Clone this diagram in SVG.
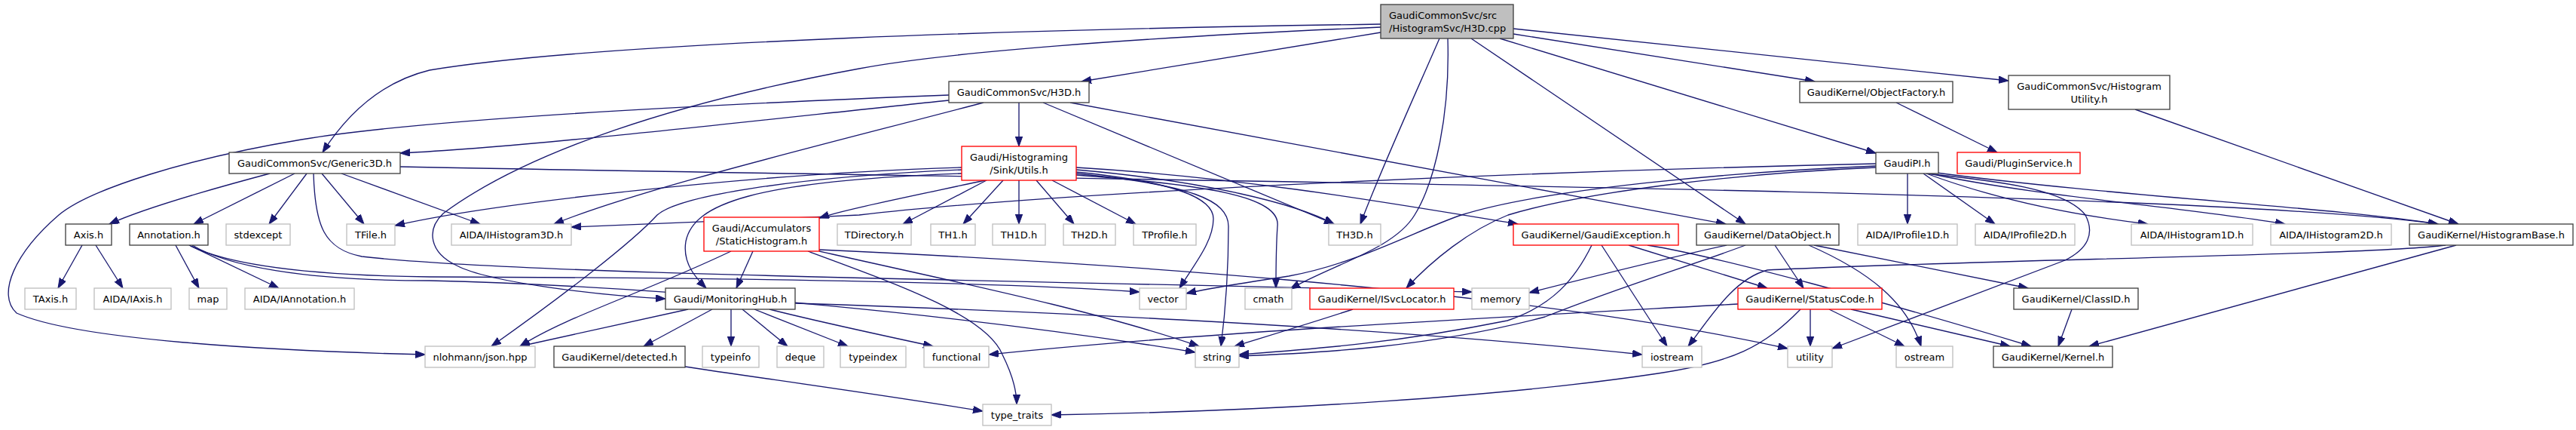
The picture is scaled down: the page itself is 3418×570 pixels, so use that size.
<svg xmlns="http://www.w3.org/2000/svg" width="3418" height="570" viewBox="0 0 3418 570">
<style>
text{font-family:"DejaVu Sans","Liberation Sans",sans-serif;font-size:13px;fill:#000;text-anchor:middle}
.l{text-anchor:start}
rect{stroke-width:1.33}
.b{fill:#fff;stroke:#404040}
.g{fill:#fff;stroke:#bfbfbf}
.r{fill:#fff;stroke:#ff0000}
.root{fill:#bfbfbf;stroke:#404040}
#edges path{fill:none;stroke:#191970;stroke-width:1.33;marker-end:url(#ah)}
</style>
<defs>
<marker id="ah" markerUnits="userSpaceOnUse" markerWidth="14" markerHeight="10" refX="13" refY="4.7" orient="auto">
<path d="M0,0 L13,4.7 L0,9.4 z" fill="#191970" stroke="#191970" stroke-width="1"/>
</marker>
</defs>
<rect width="3418" height="570" fill="#fff"/>
<g id="edges">
<path d="M1832,32 C1400,38 800,55 570,93 C500,110 455,160 428,202"/>
<path d="M1832,36 C1500,50 1250,70 1140,91 C900,135 700,200 588,283 C565,305 570,335 606,352 C650,375 800,392 883,396"/>
<path d="M1832,43 L1435,108"/>
<path d="M1910,51 C1880,120 1830,230 1805,297"/>
<path d="M1921,51 C1924,150 1905,240 1877,285 C1850,330 1770,350 1712,383"/>
<path d="M1952,51 L2316,297"/>
<path d="M1990,51 L2489,203"/>
<path d="M2008,45 L2408,108"/>
<path d="M2008,38 L2665,107"/>
<path d="M1259,126 C900,140 550,160 400,185 C250,210 120,250 78,285 C20,335 -5,390 22,415 C100,450 350,465 564,470"/>
<path d="M1259,133 C1000,160 700,195 531,203"/>
<path d="M1305,136 C1100,190 850,250 735,297"/>
<path d="M1352,136 L1352,194"/>
<path d="M1384,136 L1770,297"/>
<path d="M1420,136 L2290,297"/>
<path d="M358,230 Q200,272 145,297"/>
<path d="M391,230 L257,297"/>
<path d="M407,230 L357,297"/>
<path d="M416,230 C418,300 430,330 480,340 C700,365 1400,372 1953,387"/>
<path d="M427,230 L483,297"/>
<path d="M453,230 L637,297"/>
<path d="M531,221 C1500,240 2900,250 3235,297"/>
<path d="M109,325 L77,382"/>
<path d="M127,325 L163,382"/>
<path d="M233,325 L264,382"/>
<path d="M251,325 L370,382"/>
<path d="M251,325 C300,350 400,365 570,367 C900,368 1300,372 1512,387"/>
<path d="M255,325 C300,352 400,372 570,372 C900,380 1300,420 1586,467"/>
<path d="M999,333 L977,382"/>
<path d="M970,333 C850,390 750,420 690,459"/>
<path d="M1072,333 C1200,380 1310,420 1330,470 C1345,500 1349,520 1349,536"/>
<path d="M1087,331 C1400,345 2000,380 2372,462"/>
<path d="M1087,333 C1250,370 1450,410 1591,459"/>
<path d="M913,410 L690,459"/>
<path d="M945,410 L854,459"/>
<path d="M970,410 L970,459"/>
<path d="M985,410 L1045,459"/>
<path d="M1001,410 L1125,459"/>
<path d="M1021,410 C1080,425 1140,438 1238,459"/>
<path d="M1055,402 C1300,410 1800,430 2179,470"/>
<path d="M909,486 C1000,500 1150,520 1304,545"/>
<path d="M1307,239 C1200,262 1120,278 1087,289"/>
<path d="M1309,239 L1198,297"/>
<path d="M1331,239 L1278,297"/>
<path d="M1352,239 L1352,297"/>
<path d="M1375,239 L1425,297"/>
<path d="M1396,239 L1507,297"/>
<path d="M1276,222 C1000,230 650,270 524,299"/>
<path d="M1276,225 C1050,235 900,260 872,285 C840,320 750,390 652,459"/>
<path d="M1276,230 C1000,240 920,270 910,320 C905,350 925,370 937,382"/>
<path d="M1428,222 C1650,235 1850,270 2014,297"/>
<path d="M1428,225 C1600,240 1720,270 1770,297"/>
<path d="M1428,228 C1550,240 1610,260 1610,290 C1610,320 1585,350 1565,382"/>
<path d="M1428,230 C1580,245 1630,265 1630,300 C1630,360 1625,420 1620,459"/>
<path d="M1428,232 C1600,245 1700,260 1695,300 C1693,330 1693,360 1693,382"/>
<path d="M2489,217 C2000,228 1400,255 1140,285 C1000,292 850,297 758,301"/>
<path d="M2489,220 C2300,228 2050,250 1939,285 C1880,305 1800,350 1710,366 C1650,375 1600,383 1574,389"/>
<path d="M2489,222 C2300,230 2100,255 2001,285 C1950,305 1900,345 1866,382"/>
<path d="M2531,230 L2531,297"/>
<path d="M2552,230 L2647,297"/>
<path d="M2556,230 C2650,265 2750,285 2850,297"/>
<path d="M2560,230 C2700,260 2900,275 3032,297"/>
<path d="M2562,228 C2800,260 3100,275 3235,297"/>
<path d="M2556,230 C2650,240 2740,250 2767,285 C2780,310 2770,330 2740,345 L2431,462"/>
<path d="M2516,136 L2650,202"/>
<path d="M2833,145 L3262,297"/>
<path d="M2125,325 L2212,459"/>
<path d="M2112,325 C2090,370 2060,405 2000,425 C1850,455 1750,462 1644,470"/>
<path d="M2161,325 L2345,382"/>
<path d="M2186,325 C2280,340 2500,400 2695,459"/>
<path d="M2355,325 L2393,382"/>
<path d="M2400,325 C2480,360 2530,400 2549,459"/>
<path d="M2407,325 L2691,382"/>
<path d="M2291,325 C2200,345 2100,370 2029,388"/>
<path d="M2316,325 C2250,350 2150,380 2050,420 C1900,460 1750,468 1644,472"/>
<path d="M2402,410 L2402,459"/>
<path d="M2427,410 L2527,459"/>
<path d="M2456,410 L2667,459"/>
<path d="M2389,410 C2340,460 2300,480 2200,495 C2000,525 1700,545 1395,550"/>
<path d="M2306,403 C2000,420 1600,440 1312,470"/>
<path d="M2749,410 L2731,459"/>
<path d="M3245,325 C3150,338 2600,345 2345,358 C2300,370 2270,420 2240,459"/>
<path d="M3259,325 L2772,459"/>
<path d="M1795,410 C1750,425 1700,440 1638,459"/>
</g>
<g id="n0"><rect class="root" x="1832" y="6" width="176" height="45"/><text class="l" x="1843" y="25">GaudiCommonSvc/src</text><text class="l" x="1843" y="42">/HistogramSvc/H3D.cpp</text></g>
<g id="n1"><rect class="b" x="1259" y="108" width="186" height="28"/><text x="1352" y="127">GaudiCommonSvc/H3D.h</text></g>
<g id="n2"><rect class="b" x="2388" y="108" width="203" height="28"/><text x="2489.5" y="127">GaudiKernel/ObjectFactory.h</text></g>
<g id="n3"><rect class="b" x="2665" y="100" width="214" height="45"/><text x="2772" y="119">GaudiCommonSvc/Histogram</text><text x="2772" y="136">Utility.h</text></g>
<g id="n4"><rect class="b" x="304" y="202" width="227" height="28"/><text x="417.5" y="221">GaudiCommonSvc/Generic3D.h</text></g>
<g id="n5"><rect class="r" x="1276" y="194" width="152" height="45"/><text x="1352" y="213">Gaudi/Histograming</text><text x="1352" y="230">/Sink/Utils.h</text></g>
<g id="n6"><rect class="b" x="2489" y="202" width="83" height="28"/><text x="2530.5" y="221">GaudiPI.h</text></g>
<g id="n7"><rect class="r" x="2597" y="202" width="163" height="28"/><text x="2678.5" y="221">Gaudi/PluginService.h</text></g>
<g id="n8"><rect class="b" x="87" y="297" width="61" height="28"/><text x="117.5" y="316">Axis.h</text></g>
<g id="n9"><rect class="b" x="172" y="297" width="104" height="28"/><text x="224" y="316">Annotation.h</text></g>
<g id="n10"><rect class="g" x="300" y="297" width="85" height="28"/><text x="342.5" y="316">stdexcept</text></g>
<g id="n11"><rect class="g" x="460" y="297" width="64" height="28"/><text x="492" y="316">TFile.h</text></g>
<g id="n12"><rect class="g" x="599" y="297" width="159" height="28"/><text x="678.5" y="316">AIDA/IHistogram3D.h</text></g>
<g id="n13"><rect class="r" x="934" y="288" width="153" height="45"/><text x="1010.5" y="307">Gaudi/Accumulators</text><text x="1010.5" y="324">/StaticHistogram.h</text></g>
<g id="n14"><rect class="g" x="1111" y="297" width="98" height="28"/><text x="1160" y="316">TDirectory.h</text></g>
<g id="n15"><rect class="g" x="1235" y="297" width="59" height="28"/><text x="1264.5" y="316">TH1.h</text></g>
<g id="n16"><rect class="g" x="1317" y="297" width="70" height="28"/><text x="1352" y="316">TH1D.h</text></g>
<g id="n17"><rect class="g" x="1411" y="297" width="69" height="28"/><text x="1445.5" y="316">TH2D.h</text></g>
<g id="n18"><rect class="g" x="1504" y="297" width="83" height="28"/><text x="1545.5" y="316">TProfile.h</text></g>
<g id="n19"><rect class="g" x="1763" y="297" width="69" height="28"/><text x="1797.5" y="316">TH3D.h</text></g>
<g id="n20"><rect class="r" x="2008" y="297" width="219" height="28"/><text x="2117.5" y="316">GaudiKernel/GaudiException.h</text></g>
<g id="n21"><rect class="b" x="2251" y="297" width="189" height="28"/><text x="2345.5" y="316">GaudiKernel/DataObject.h</text></g>
<g id="n22"><rect class="g" x="2465" y="297" width="132" height="28"/><text x="2531" y="316">AIDA/IProfile1D.h</text></g>
<g id="n23"><rect class="g" x="2621" y="297" width="132" height="28"/><text x="2687" y="316">AIDA/IProfile2D.h</text></g>
<g id="n24"><rect class="g" x="2828" y="297" width="161" height="28"/><text x="2908.5" y="316">AIDA/IHistogram1D.h</text></g>
<g id="n25"><rect class="g" x="3013" y="297" width="160" height="28"/><text x="3093" y="316">AIDA/IHistogram2D.h</text></g>
<g id="n26"><rect class="b" x="3197" y="297" width="217" height="28"/><text x="3305.5" y="316">GaudiKernel/HistogramBase.h</text></g>
<g id="n27"><rect class="g" x="33" y="382" width="68" height="28"/><text x="67" y="401">TAxis.h</text></g>
<g id="n28"><rect class="g" x="125" y="382" width="102" height="28"/><text x="176" y="401">AIDA/IAxis.h</text></g>
<g id="n29"><rect class="g" x="251" y="382" width="50" height="28"/><text x="276" y="401">map</text></g>
<g id="n30"><rect class="g" x="325" y="382" width="145" height="28"/><text x="397.5" y="401">AIDA/IAnnotation.h</text></g>
<g id="n31"><rect class="b" x="883" y="382" width="172" height="28"/><text x="969" y="401">Gaudi/MonitoringHub.h</text></g>
<g id="n32"><rect class="g" x="1512" y="382" width="62" height="28"/><text x="1543" y="401">vector</text></g>
<g id="n33"><rect class="g" x="1652" y="382" width="62" height="28"/><text x="1683" y="401">cmath</text></g>
<g id="n34"><rect class="r" x="1738" y="382" width="191" height="28"/><text x="1833.5" y="401">GaudiKernel/ISvcLocator.h</text></g>
<g id="n35"><rect class="g" x="1953" y="382" width="76" height="28"/><text x="1991" y="401">memory</text></g>
<g id="n36"><rect class="r" x="2306" y="382" width="191" height="28"/><text x="2401.5" y="401">GaudiKernel/StatusCode.h</text></g>
<g id="n37"><rect class="b" x="2672" y="382" width="165" height="28"/><text x="2754.5" y="401">GaudiKernel/ClassID.h</text></g>
<g id="n38"><rect class="g" x="564" y="459" width="146" height="28"/><text x="637" y="478">nlohmann/json.hpp</text></g>
<g id="n39"><rect class="b" x="735" y="459" width="174" height="28"/><text x="822" y="478">GaudiKernel/detected.h</text></g>
<g id="n40"><rect class="g" x="932" y="459" width="75" height="28"/><text x="969.5" y="478">typeinfo</text></g>
<g id="n41"><rect class="g" x="1031" y="459" width="62" height="28"/><text x="1062" y="478">deque</text></g>
<g id="n42"><rect class="g" x="1115" y="459" width="87" height="28"/><text x="1158.5" y="478">typeindex</text></g>
<g id="n43"><rect class="g" x="1226" y="459" width="86" height="28"/><text x="1269" y="478">functional</text></g>
<g id="n44"><rect class="g" x="1586" y="459" width="58" height="28"/><text x="1615" y="478">string</text></g>
<g id="n45"><rect class="g" x="2179" y="459" width="79" height="28"/><text x="2218.5" y="478">iostream</text></g>
<g id="n46"><rect class="g" x="2372" y="459" width="59" height="28"/><text x="2401.5" y="478">utility</text></g>
<g id="n47"><rect class="g" x="2516" y="459" width="75" height="28"/><text x="2553.5" y="478">ostream</text></g>
<g id="n48"><rect class="b" x="2645" y="459" width="158" height="28"/><text x="2724" y="478">GaudiKernel/Kernel.h</text></g>
<g id="n49"><rect class="g" x="1304" y="536" width="91" height="28"/><text x="1349.5" y="555">type_traits</text></g>
</svg>
